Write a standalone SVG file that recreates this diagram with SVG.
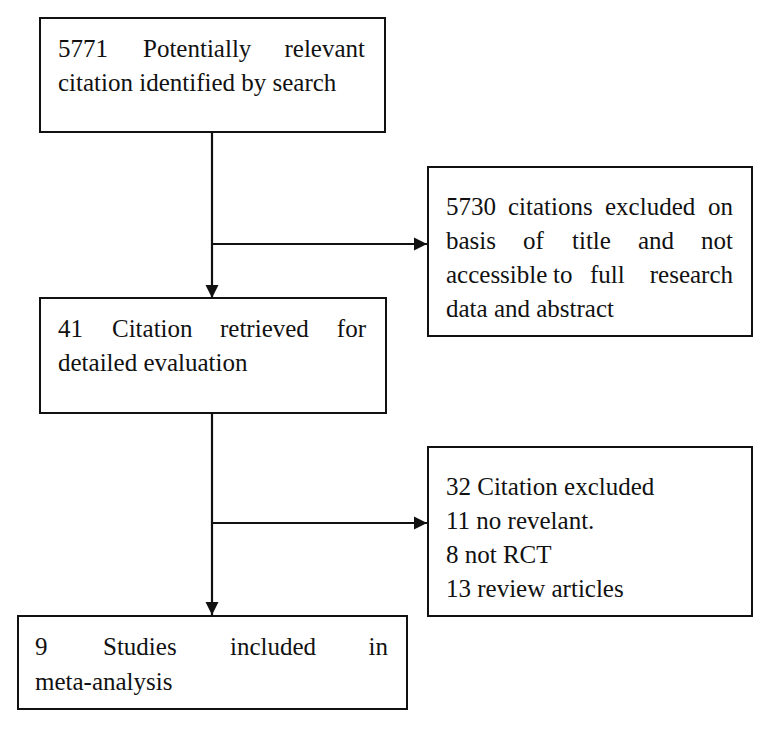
<svg xmlns="http://www.w3.org/2000/svg" width="770" height="729" viewBox="0 0 770 729">
<style>
.box{fill:#fff;stroke:#111;stroke-width:2}
.t{font-family:'Liberation Serif',Tinos,'Times New Roman','Nimbus Roman','DejaVu Serif',serif;font-size:25px;fill:#111}
.c{fill:none;stroke:#111;stroke-width:2.2}
</style>
<defs>
<marker id="ah" markerUnits="userSpaceOnUse" markerWidth="14" markerHeight="14" viewBox="0 0 14 14" refX="13" refY="7" orient="auto">
<path d="M0,0.5 L13,7 L0,13.5 Z" fill="#111"/>
</marker>
</defs>
<rect width="770" height="729" fill="#fff"/>
<g id="connectors">
<path class="c" d="M212 132 V298" marker-end="url(#ah)"/>
<path class="c" d="M212 244 H427" marker-end="url(#ah)"/>
<path class="c" d="M212 413 V615" marker-end="url(#ah)"/>
<path class="c" d="M212 523 H427" marker-end="url(#ah)"/>
</g>
<g id="n1">
<rect class="box" x="40" y="18" width="345" height="114"/>
<text class="t" y="57"><tspan x="58">5771</tspan><tspan x="143">Potentially</tspan><tspan x="365" text-anchor="end">relevant</tspan></text>
<text class="t" x="58" y="91">citation identified by search</text>
</g>
<g id="n2">
<rect class="box" x="428" y="167" width="324" height="169"/>
<text class="t" y="214.5"><tspan x="446">5730</tspan><tspan x="508">citations</tspan><tspan x="605">excluded</tspan><tspan x="733" text-anchor="end">on</tspan></text>
<text class="t" y="248.5"><tspan x="446">basis</tspan><tspan x="523">of</tspan><tspan x="572">title</tspan><tspan x="638">and</tspan><tspan x="733" text-anchor="end">not</tspan></text>
<text class="t" y="282.5"><tspan x="446">accessible</tspan><tspan x="553">to</tspan><tspan x="590">full</tspan><tspan x="733" text-anchor="end">research</tspan></text>
<text class="t" x="446" y="316.5">data and abstract</text>
</g>
<g id="n3">
<rect class="box" x="40" y="298" width="346" height="115"/>
<text class="t" y="337"><tspan x="58">41</tspan><tspan x="112">Citation</tspan><tspan x="220">retrieved</tspan><tspan x="366" text-anchor="end">for</tspan></text>
<text class="t" x="58" y="371">detailed evaluation</text>
</g>
<g id="n4">
<rect class="box" x="428" y="447" width="324" height="169"/>
<text class="t" x="446" y="494.5">32 Citation excluded</text>
<text class="t" x="446" y="528.5">11 no revelant.</text>
<text class="t" x="446" y="562.5">8 not RCT</text>
<text class="t" x="446" y="596.5">13 review articles</text>
</g>
<g id="n5">
<rect class="box" x="18" y="616" width="389" height="93"/>
<text class="t" y="655"><tspan x="35">9</tspan><tspan x="103">Studies</tspan><tspan x="230">included</tspan><tspan x="388" text-anchor="end">in</tspan></text>
<text class="t" x="35" y="690">meta-analysis</text>
</g>
</svg>
